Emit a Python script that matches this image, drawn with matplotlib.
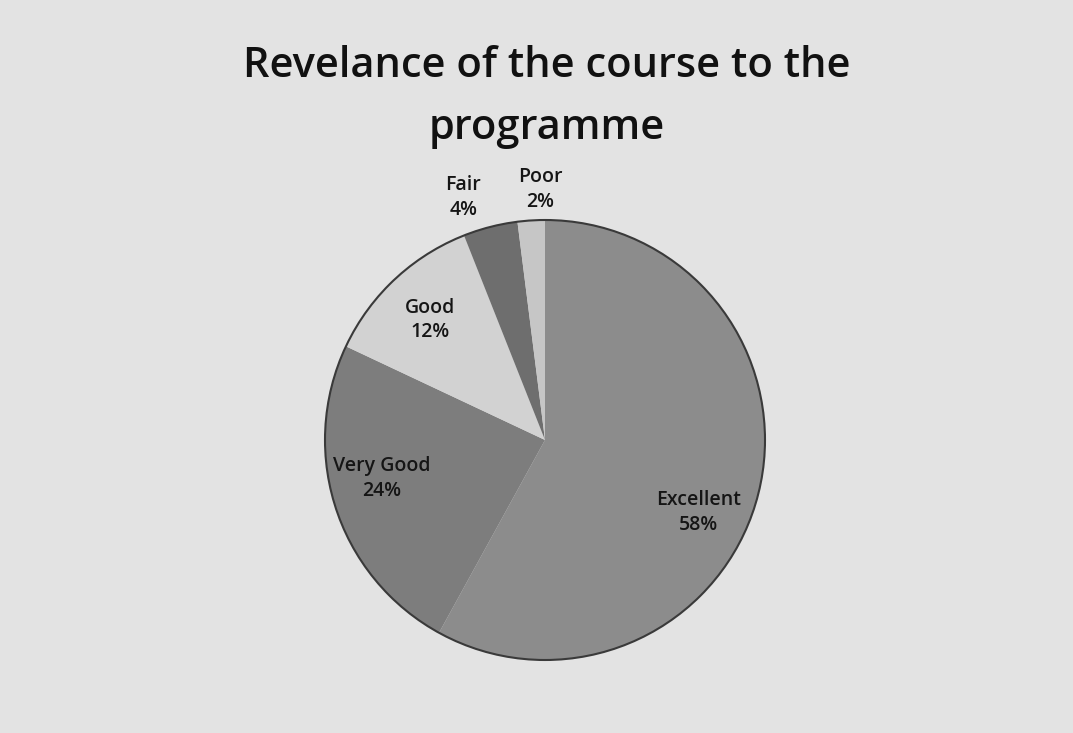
import numpy as np
import matplotlib
matplotlib.use('Agg')
import matplotlib.pyplot as plt

labels = ['Excellent', 'Very Good', 'Good', 'Fair', 'Poor']
shares = [58, 24, 12, 4, 2]
colors = ['#8c8c8c', '#7d7d7d', '#d2d2d2', '#6e6e6e', '#c6c6c6']
# radial position of each label (1 = pie edge) and small nudges
label_r = [0.72, 0.76, 0.72, 1.17, 1.2]
label_dx = [0.0, -0.02, -0.03, -0.08, 0.055]
label_dy = [-0.15, 0.06, 0.02, -0.03, -0.06]

plt.rcParams['font.family'] = ['Open Sans', 'DejaVu Sans']

fig = plt.figure(figsize=(10.73, 7.33), dpi=100)
fig.patch.set_facecolor('#e3e3e3')

# pie centre at about (545, 440) px, radius about 220 px
W, H = 1073, 733
size = 550
ax = fig.add_axes([(545 - size / 2) / W, (H - 440 - size / 2) / H, size / W, size / H])
ax.set_facecolor('none')

wedges, _ = ax.pie(shares, colors=colors, startangle=90, counterclock=False,
                   wedgeprops=dict(edgecolor='none', linewidth=0))
# dark outline round the whole pie
ax.add_patch(plt.Circle((0, 0), 1.0, fill=False, edgecolor='#3a3a3a', linewidth=1.5))

total = sum(shares)
start = 90.0
for lab, s, r, dx, dy in zip(labels, shares, label_r, label_dx, label_dy):
    mid = start - 360.0 * s / total / 2
    start -= 360.0 * s / total
    x = r * np.cos(np.radians(mid)) + dx
    y = r * np.sin(np.radians(mid)) + dy
    ax.text(x, y, f'{lab}\n{round(100 * s / total)}%', ha='center', va='center',
            fontsize=14, fontweight='semibold', color='#151515', linespacing=1.3)

ax.set_xlim(-1.25, 1.25)
ax.set_ylim(-1.25, 1.25)
ax.set_aspect('equal')
ax.axis('off')

fig.text(0.51, 1 - 97 / H, 'Revelance of the course to the\nprogramme', ha='center', va='center',
         fontsize=30, fontweight='semibold', color='#111111', linespacing=1.6)

fig.savefig('out.png', dpi=100, facecolor=fig.get_facecolor())
